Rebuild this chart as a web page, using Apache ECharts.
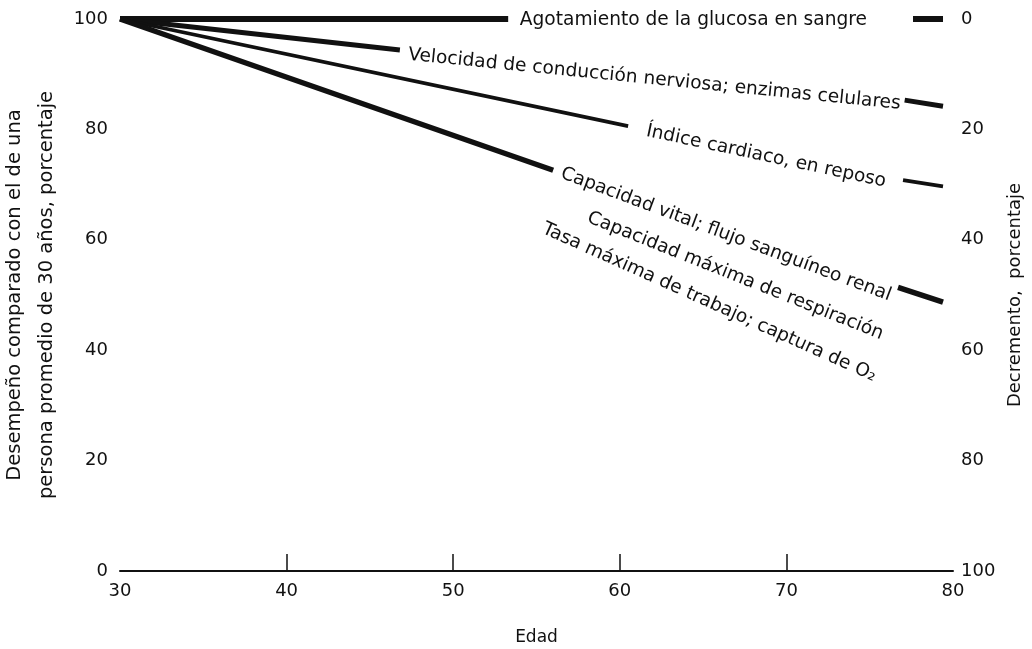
<!DOCTYPE html>
<html>
<head>
<meta charset="utf-8">
<script src="https://cdn.jsdelivr.net/npm/echarts@6/dist/echarts.min.js"></script>
<style>
html,body{margin:0;padding:0;background:#fff;}
#chart{width:1032px;height:649px;}
</style>
</head>
<body>
<div id="chart"></div>
<script>
// ---- data ----
const xTicks = [30, 40, 50, 60, 70, 80];
const leftTicks = [0, 20, 40, 60, 80, 100];
const rightTicks = [0, 20, 40, 60, 80, 100];

const seriesNames = [
  'Agotamiento de la glucosa en sangre',
  'Velocidad de conducción nerviosa; enzimas celulares',
  'Índice cardiaco, en reposo',
  'Capacidad vital; flujo sanguíneo renal'
];
// each line: age points and performance values (%), broken after the 2nd point by its label
const glucoseAge = [30, 53.3, 77.6, 79.4];
const glucoseVal = [100, 100, 100, 100];
const nerveAge = [30, 46.8, 77.1, 79.4];
const nerveVal = [100, 94.4, 85.3, 84.2];
const cardiacAge = [30, 60.5, 77.0, 79.4];
const cardiacVal = [100, 80.6, 70.8, 69.7];
const vitalAge = [30, 56.0, 76.7, 79.4];
const vitalVal = [100, 72.6, 51.4, 48.7];

const labelTexts = [
  'Agotamiento de la glucosa en sangre',
  'Velocidad de conducción nerviosa; enzimas celulares',
  'Índice cardiaco, en reposo',
  'Capacidad vital; flujo sanguíneo renal',
  'Capacidad máxima de respiración',
  'Tasa máxima de trabajo; captura de O₂'
];

// ---- layout / style (not data) ----
const labelAnchorAge = [54.0, 47.3, 61.6, 56.5, 58.1, 55.4];
const labelAnchorVal = [99.8, 93.5, 79.7, 72.1, 64.1, 62.1];
const labelAngleDeg = [0, 5.7, 12.0, 20.5, 21.8, 24.1];
const lineWidths = [6, 5, 3.8, 5.5];

const FONT = 'DejaVu Sans';
const INK = '#111';
const LABEL_SIZE = 18.6;

function buildData(ages, vals) {
  const d = [];
  for (let i = 0; i < ages.length; i++) {
    d.push([ages[i], vals[i]]);
    if (i === 1) d.push([ages[i], '-']);
  }
  return d;
}
const seriesData = [
  buildData(glucoseAge, glucoseVal),
  buildData(nerveAge, nerveVal),
  buildData(cardiacAge, cardiacVal),
  buildData(vitalAge, vitalVal)
];

const chart = echarts.init(document.getElementById('chart'), null, {renderer: 'canvas'});

const option = {
  animation: false,
  backgroundColor: '#fff',
  grid: {left: 120, right: 79, top: 19, bottom: 78, containLabel: false, outerBoundsMode: 'none'},
  xAxis: {
    type: 'value', min: xTicks[0], max: xTicks[xTicks.length - 1], interval: 10,
    name: 'Edad', nameLocation: 'middle', nameGap: 58,
    nameTextStyle: {fontFamily: FONT, fontSize: 17, color: INK},
    axisLine: {show: true, lineStyle: {color: INK, width: 2}},
    axisTick: {show: true, inside: true, length: 17, customValues: [40, 50, 60, 70], lineStyle: {color: INK, width: 1.5}},
    axisLabel: {fontFamily: FONT, fontSize: 18, color: INK, margin: 11, customValues: xTicks},
    splitLine: {show: false}
  },
  yAxis: [
    {
      type: 'value', min: 0, max: 100, interval: 20, position: 'left',
      name: 'Desempeño comparado con el de una\npersona promedio de 30 años, porcentaje',
      nameLocation: 'middle', nameRotate: 90, nameGap: 56,
      nameTextStyle: {fontFamily: FONT, fontSize: 19.5, color: INK, lineHeight: 32},
      axisLine: {show: false}, axisTick: {show: false},
      axisLabel: {fontFamily: FONT, fontSize: 18, color: INK, margin: 12, customValues: leftTicks},
      splitLine: {show: false}
    },
    {
      type: 'value', min: 0, max: 100, interval: 20, position: 'right', inverse: true,
      name: 'Decremento,  porcentaje',
      nameLocation: 'middle', nameRotate: 90, nameGap: 51,
      nameTextStyle: {fontFamily: FONT, fontSize: 18, color: INK},
      axisLine: {show: false}, axisTick: {show: false},
      axisLabel: {fontFamily: FONT, fontSize: 18, color: INK, margin: 8, customValues: rightTicks},
      splitLine: {show: false}
    }
  ],
  series: seriesData.map((d, i) => ({
    name: seriesNames[i],
    type: 'line',
    yAxisIndex: 0,
    data: d,
    symbol: 'none',
    connectNulls: false,
    clip: false,
    lineStyle: {color: INK, width: lineWidths[i], cap: 'butt'}
  }))
};
chart.setOption(option);

const graphics = labelTexts.map((t, i) => {
  const p = chart.convertToPixel({gridIndex: 0}, [labelAnchorAge[i], labelAnchorVal[i]]);
  return {
    type: 'text',
    x: p[0], y: p[1],
    rotation: -labelAngleDeg[i] * Math.PI / 180,
    style: {
      text: t,
      fill: INK,
      font: LABEL_SIZE + 'px "' + FONT + '"',
      fontFamily: FONT, fontSize: LABEL_SIZE,
      align: 'left', verticalAlign: 'middle',
      textAlign: 'left', textVerticalAlign: 'middle'
    },
    z: 10
  };
});
chart.setOption({graphic: graphics});
</script>
</body>
</html>
